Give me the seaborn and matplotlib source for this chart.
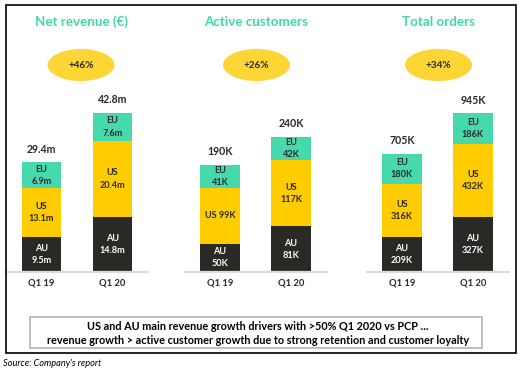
import numpy as np
import pandas as pd
import matplotlib.pyplot as plt
from matplotlib.patches import Ellipse, Rectangle
import seaborn as sns

# 데이터
quarters = ['Q1 19', 'Q1 20']

rev_au = [9.5, 14.8]
rev_us = [13.1, 20.4]
rev_eu = [6.9, 7.6]
rev_total_lbl = ['29.4m', '42.8m']
rev_seg_lbl = [['AU\n9.5m', 'US\n13.1m', 'EU\n6.9m'],
               ['AU\n14.8m', 'US\n20.4m', 'EU\n7.6m']]

cust_au = [50, 81]
cust_us = [99, 117]
cust_eu = [41, 42]
cust_total_lbl = ['190K', '240K']
cust_seg_lbl = [['AU\n50K', 'US 99K', 'EU\n41K'],
                ['AU\n81K', 'US\n117K', 'EU\n42K']]

ord_au = [209, 327]
ord_us = [316, 432]
ord_eu = [180, 186]
ord_total_lbl = ['705K', '945K']
ord_seg_lbl = [['AU\n209K', 'US\n316K', 'EU\n180K'],
               ['AU\n327K', 'US\n432K', 'EU\n186K']]

titles = ['Net revenue (€)', 'Active customers', 'Total orders']
growth = ['+46%', '+26%', '+34%']

note_lines = ['US and AU main revenue growth drivers with >50% Q1 2020 vs PCP ...',
              'revenue growth > active customer growth due to strong retention and customer loyalty']
source = "Source: Company's report"

# 색상
C_AU = '#2b2926'
C_US = '#ffcc00'
C_EU = '#47d9ae'
C_TITLE = '#3fd8a9'
C_OVAL = '#fdd535'
C_TXT = '#2b2926'

sns.set_theme(style='white')
plt.rcParams['font.family'] = ['Lato', 'DejaVu Sans']

W, H = 526, 376
fig = plt.figure(figsize=(W / 100, H / 100), dpi=100)
fig.patch.set_facecolor('white')


def fx(px):
    return px / W


def fy(py):
    return 1 - py / H


panels = [
    (rev_au, rev_us, rev_eu, rev_total_lbl, rev_seg_lbl, 71.8, 6),
    (cust_au, cust_us, cust_eu, cust_total_lbl, cust_seg_lbl, 474, 184.5),
    (ord_au, ord_us, ord_eu, ord_total_lbl, ord_seg_lbl, 1589, 366.5),
]

base_y = 272
top_y = 5
for k, (au, us, eu, tot_lbl, seg_lbl, ymax, left) in enumerate(panels):
    ax = fig.add_axes([fx(left), fy(base_y), fx(142), (base_y - top_y) / H])
    ax.set_facecolor('none')
    au = np.array(au)
    us = np.array(us)
    eu = np.array(eu)
    total = au + us + eu
    # 누적 막대: 큰 것부터 덮어 그리기
    sns.barplot(x=quarters, y=total, color=C_EU, width=0.56, saturation=1,
                errorbar=None, linewidth=0, ax=ax)
    sns.barplot(x=quarters, y=au + us, color=C_US, width=0.56, saturation=1,
                errorbar=None, linewidth=0, ax=ax)
    sns.barplot(x=quarters, y=au, color=C_AU, width=0.56, saturation=1,
                errorbar=None, linewidth=0, ax=ax)
    ax.set_xlim(-0.5, 1.5)
    ax.set_ylim(0, ymax)
    ax.set_yticks([])
    ax.set_xlabel('')
    ax.set_ylabel('')
    for s in ['top', 'left', 'right']:
        ax.spines[s].set_visible(False)
    ax.spines['bottom'].set_color('#dcdcdc')
    ax.spines['bottom'].set_linewidth(1.6)
    ax.tick_params(axis='x', length=0, pad=5, labelsize=6.8, labelcolor=C_TXT)
    for lab in ax.get_xticklabels():
        lab.set_fontweight('bold')

    for i in range(2):
        bottoms = [0, au[i], au[i] + us[i]]
        heights = [au[i], us[i], eu[i]]
        colors = ['white', C_TXT, C_TXT]
        for j in range(3):
            ax.text(i, bottoms[j] + heights[j] / 2, seg_lbl[i][j], ha='center', va='center',
                    fontsize=6.6, fontweight='bold', color=colors[j], linespacing=1.45)
        ax.annotate(tot_lbl[i], (i, total[i]), xytext=(0, 9.5), textcoords='offset points',
                    ha='center', va='center', fontsize=7.6, fontweight='bold', color=C_TXT)

    cx = left + 71 + [4, 1, 1][k]
    fig.text(fx(cx), fy(22), titles[k], ha='center', va='center', fontsize=9.6,
             fontweight='bold', color=C_TITLE)
    fig.patches.append(Ellipse((fx(cx), fy(65)), fx(67), 32 / H, transform=fig.transFigure,
                               facecolor=C_OVAL, edgecolor='none'))
    fig.text(fx(cx), fy(65), growth[k], ha='center', va='center', fontsize=7.2,
             fontweight='bold', color=C_TXT)

# 외곽 박스
fig.patches.append(Rectangle((fx(6), fy(353)), fx(510), (353 - 5) / H, transform=fig.transFigure,
                             fill=False, edgecolor='black', linewidth=1.2, zorder=0))
# 하단 설명 박스
fig.patches.append(Rectangle((fx(30), fy(348)), fx(452), (348 - 317) / H, transform=fig.transFigure,
                             fill=False, edgecolor='#b5b5b5', linewidth=1.2))
fig.text(fx(258), fy(326), note_lines[0], ha='center', va='center', fontsize=7.8,
         fontweight='bold', color='black')
fig.text(fx(258), fy(340), note_lines[1], ha='center', va='center', fontsize=7.8,
         fontweight='bold', color='black')
fig.text(fx(3), fy(363), source, ha='left', va='center', fontsize=6.7,
         style='italic', color='black')

plt.savefig('out.png', dpi=100)
